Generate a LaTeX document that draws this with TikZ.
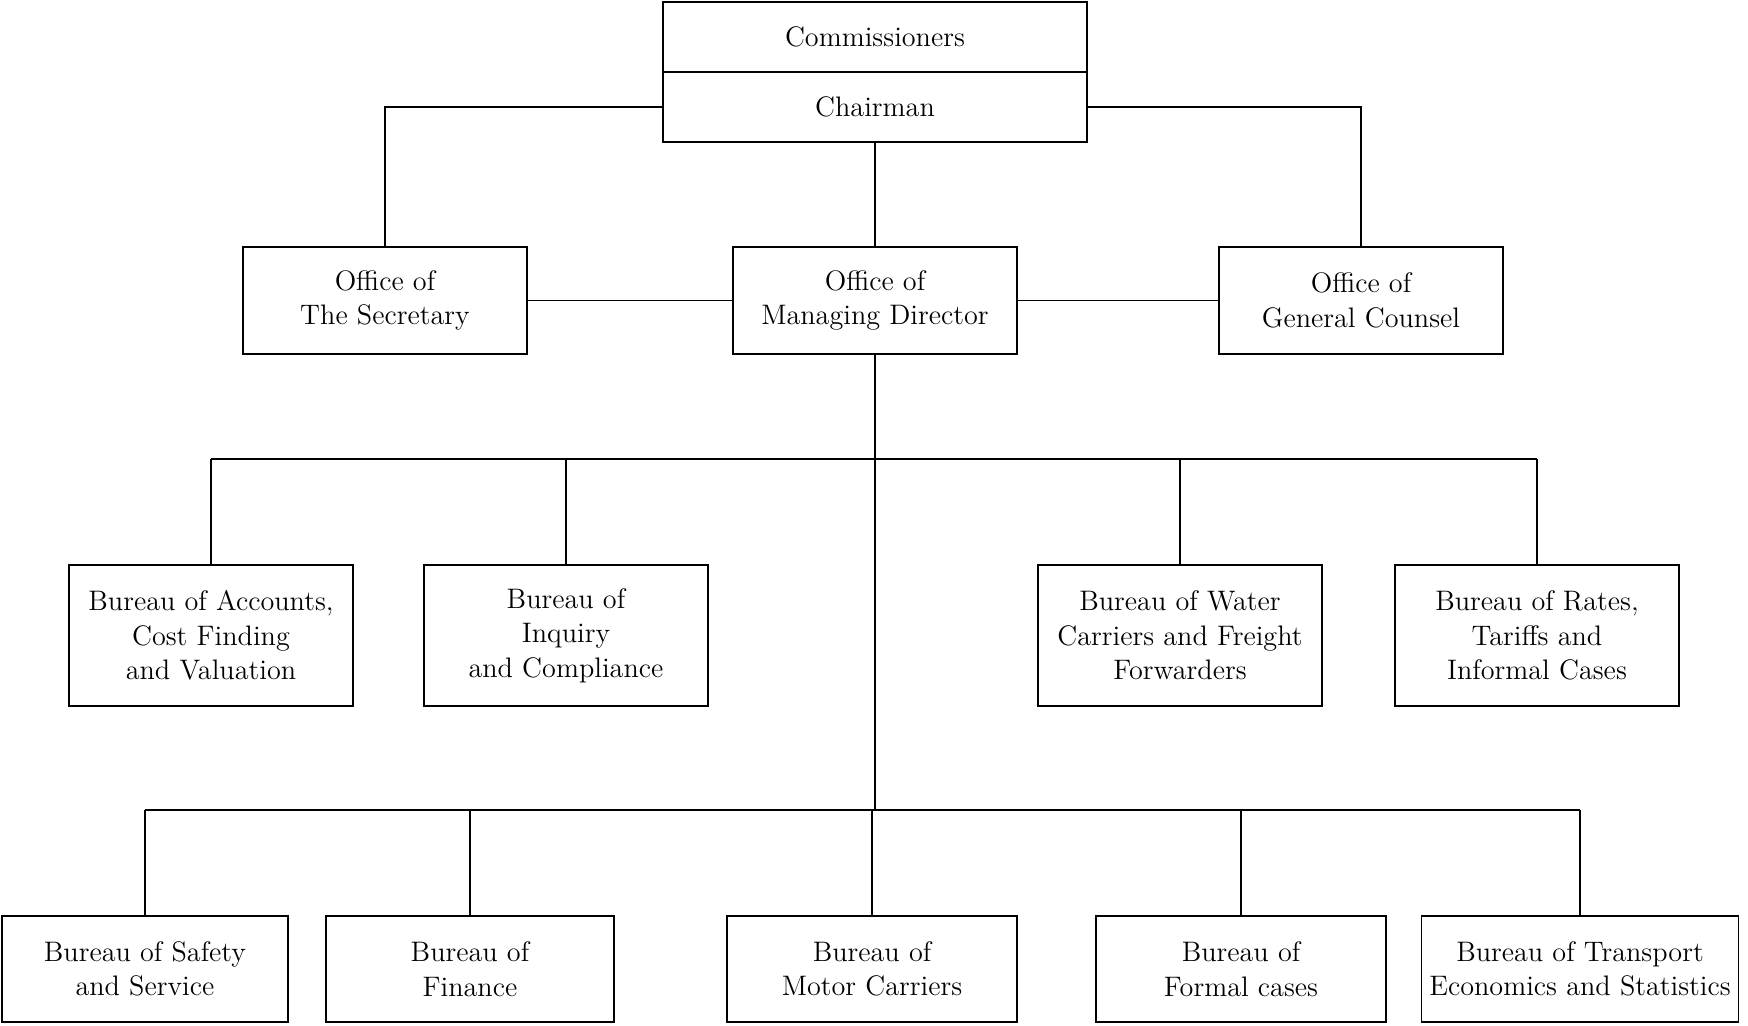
\documentclass[tikz,border=0pt]{standalone}
\usepackage{tikz}
\usetikzlibrary{positioning}

\begin{document}
\begin{tikzpicture}[line width=0.55pt,
every node/.style={font=\fontsize{14.1}{17.3}\selectfont},
office node/.style={rectangle,draw,align=center,inner sep=0pt,minimum width=142pt,minimum height=53.5pt},
board node/.style={rectangle,draw,align=center,inner sep=0pt,minimum width=212pt,minimum height=35pt},
bureau node/.style={rectangle,draw,align=center,inner sep=0pt,minimum width=142pt,minimum height=70.5pt},
lower node/.style={rectangle,draw,align=center,inner sep=0pt,minimum width=144pt,minimum height=53pt}]

\useasboundingbox (-437.5pt,-362.25pt) rectangle (436.5pt,150.25pt);

\node[office node] (md) {Office of\\Managing Director};
\node[office node] (sec) [left of=md, node distance=245pt] {Office of\\The Secretary};
\node[office node] (gc) [right of=md, node distance=243pt] {Office of\\General Counsel};
\node[board node] (chair) [above of=md, node distance=96.75pt] {Chairman};
\node[board node] (comm) [above of=chair, node distance=35pt] {Commissioners};

\node[bureau node] (inq) [below of=md, node distance=167.5pt, xshift=-154.5pt] {Bureau of\\Inquiry\\and Compliance};
\node[bureau node] (acc) [left of=inq, node distance=177.5pt] {Bureau of Accounts,\\Cost Finding\\and Valuation};
\node[bureau node] (water) [below of=md, node distance=167.5pt, xshift=152.5pt] {Bureau of Water\\Carriers and Freight\\Forwarders};
\node[bureau node] (rates) [right of=water, node distance=178.5pt] {Bureau of Rates,\\Tariffs and\\Informal Cases};

\node[lower node, minimum width=145pt] (motor) [below of=md, node distance=334.25pt, xshift=-1.5pt] {Bureau of\\Motor Carriers};
\node[lower node] (fin) [left of=motor, node distance=201pt] {Bureau of\\Finance};
\node[lower node, minimum width=143pt] (safety) [left of=fin, node distance=162.5pt] {Bureau of Safety\\and Service};
\node[lower node, minimum width=145pt] (formal) [right of=motor, node distance=184.5pt] {Bureau of\\Formal cases};
\node[lower node, minimum width=158.5pt] (transport) [right of=formal, node distance=169.5pt] {Bureau of Transport\\Economics and Statistics};

\coordinate (hub1) at (0,-79.25pt);
\coordinate (hub2) at (0,-254.75pt);

% board and offices
\draw (chair.west) -| (sec.north);
\draw (chair.east) -| (gc.north);
\draw (chair.south) -- (md.north);
\draw (sec) -- (md);
\draw (md) -- (gc);

% first row of bureaus
\draw (md.south) -- (hub1) -- (hub2);
\draw (acc.north |- hub1) -- (rates.north |- hub1);
\foreach \b in {acc,inq,water,rates}
  \draw (\b.north |- hub1) -- (\b.north);

% second row of bureaus
\draw (safety.north |- hub2) -- (transport.north |- hub2);
\foreach \b in {safety,fin,motor,formal,transport}
  \draw (\b.north |- hub2) -- (\b.north);
\end{tikzpicture}
\end{document}
